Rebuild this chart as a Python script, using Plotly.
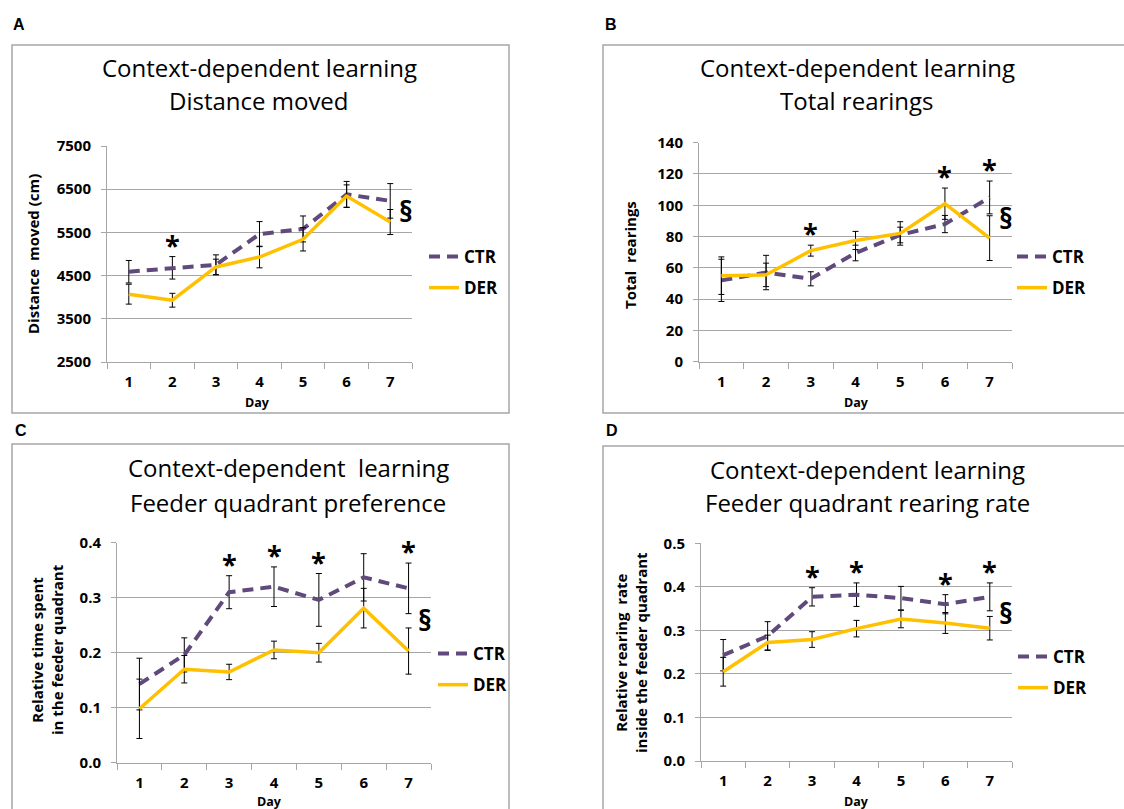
import plotly.graph_objects as go

W, H = 1124, 809

days = [1, 2, 3, 4, 5, 6, 7]
series_names = ["CTR", "DER"]

# Panel A - Distance moved (cm)
ctr_a = [4590, 4680, 4750, 5460, 5580, 6380, 6230]
ctr_a_err = [260, 260, 230, 290, 300, 300, 400]
der_a = [4070, 3930, 4700, 4930, 5340, 6340, 5740]
der_a_err = [230, 160, 180, 250, 270, 260, 290]
stars_a = [2]

# Panel B - Total rearings
ctr_b = [52, 57, 53, 69.5, 81, 88, 105]
ctr_b_err = [13.5, 11, 4.5, 5, 5, 5.5, 10.5]
der_b = [55, 55.5, 71, 77.5, 82, 101, 79]
der_b_err = [12, 7.5, 3.5, 5.8, 7.5, 10, 14.3]
stars_b = [3, 6, 7]

# Panel C - Feeder quadrant preference
ctr_c = [0.143, 0.196, 0.310, 0.320, 0.296, 0.337, 0.317]
ctr_c_err = [0.047, 0.031, 0.030, 0.036, 0.048, 0.043, 0.046]
der_c = [0.098, 0.170, 0.165, 0.205, 0.200, 0.281, 0.203]
der_c_err = [0.054, 0.025, 0.014, 0.016, 0.017, 0.036, 0.042]
stars_c = [3, 4, 5, 7]

# Panel D - Feeder quadrant rearing rate
ctr_d = [0.243, 0.287, 0.377, 0.382, 0.374, 0.360, 0.377]
ctr_d_err = [0.036, 0.033, 0.021, 0.027, 0.027, 0.022, 0.032]
der_d = [0.205, 0.272, 0.279, 0.304, 0.326, 0.317, 0.305]
der_d_err = [0.033, 0.017, 0.018, 0.019, 0.020, 0.024, 0.027]
stars_d = [3, 4, 6, 7]

CTR_COLOR = "#604A7B"
DER_COLOR = "#FFC000"
GRID = "#A6A6A6"
FONT = "Open Sans"


def px(x):
    return x / W


def py(y):
    return 1 - y / H


panels = [
    dict(letter="A", ctr=ctr_a, ctr_err=ctr_a_err, der=der_a, der_err=der_a_err, stars=stars_a,
         yrange=[2500, 7500], dtick=1000, tickformat="d",
         xdom=(107, 412), ydom=(146, 362),
         box=(12, 45, 509, 413), letter_xy=(11, 24),
         title=["Context-dependent learning", "Distance moved"], title_x=259, title_y=(67, 101),
         ytitle="<b>Distance  moved (cm)</b>", ytitle_xy=(33, 254),
         day_xy=(257, 402), legend_xy=(424, 239)),
    dict(letter="B", ctr=ctr_b, ctr_err=ctr_b_err, der=der_b, der_err=der_b_err, stars=stars_b,
         yrange=[0, 140], dtick=20, tickformat="d",
         xdom=(699, 1012), ydom=(142.7, 361.7),
         box=(603, 45, 1140, 413), letter_xy=(603, 24),
         title=["Context-dependent learning", "Total rearings"], title_x=857, title_y=(67, 101),
         ytitle="<b>Total  rearings</b>", ytitle_xy=(630, 255),
         day_xy=(856, 402), legend_xy=(1012, 239)),
    dict(letter="C", ctr=ctr_c, ctr_err=ctr_c_err, der=der_c, der_err=der_c_err, stars=stars_c,
         yrange=[0, 0.4], dtick=0.1, tickformat=".1f",
         xdom=(117, 431), ydom=(542.7, 762.7),
         box=(12, 444, 509, 830), letter_xy=(13, 430),
         title=["Context-dependent  learning", "Feeder quadrant preference"], title_x=288, title_y=(467, 503),
         ytitle="<b>Relative time spent<br>in the feeder quadrant</b>", ytitle_xy=(47, 650),
         day_xy=(269, 801), legend_xy=(433, 636)),
    dict(letter="D", ctr=ctr_d, ctr_err=ctr_d_err, der=der_d, der_err=der_d_err, stars=stars_d,
         yrange=[0, 0.5], dtick=0.1, tickformat=".1f",
         xdom=(701, 1012), ydom=(543.3, 761),
         box=(603, 446, 1140, 830), letter_xy=(604, 430),
         title=["Context-dependent learning", "Feeder quadrant rearing rate"], title_x=867, title_y=(469, 503),
         ytitle="<b>Relative rearing  rate<br>inside the feeder quadrant</b>", ytitle_xy=(631, 653),
         day_xy=(856, 801), legend_xy=(1013, 639)),
]

fig = go.Figure()
annotations = []
shapes = []

for i, p in enumerate(panels):
    n = "" if i == 0 else str(i + 1)
    xa, ya = "x" + n, "y" + n
    leg = "legend" if i == 0 else "legend" + str(i + 1)
    fig.add_trace(go.Scatter(
        x=days, y=p["ctr"], mode="lines", name=series_names[0], xaxis=xa, yaxis=ya,
        line=dict(color=CTR_COLOR, width=4, dash="11px,7px"),
        error_y=dict(type="data", array=p["ctr_err"], visible=True, color="black", thickness=1, width=3),
        legend=leg, legendgroup="ctr" + n))
    fig.add_trace(go.Scatter(
        x=days, y=p["der"], mode="lines", name=series_names[1], xaxis=xa, yaxis=ya,
        line=dict(color=DER_COLOR, width=3.5),
        error_y=dict(type="data", array=p["der_err"], visible=True, color="black", thickness=1, width=3),
        legend=leg, legendgroup="der" + n))

    x0, x1 = p["xdom"]
    y0, y1 = p["ydom"]
    fig.layout["xaxis" + n] = dict(
        domain=[px(x0), px(x1)], anchor=ya, range=[0.5, 7.5],
        tickmode="array", tickvals=days, ticktext=[str(d) for d in days],
        ticks="", showgrid=False, showline=True, linecolor=GRID, linewidth=1,
        tickfont=dict(family=FONT, size=15, color="black", weight="bold"),
        ticklabelstandoff=6, automargin=False,
        minor=dict(tickvals=[k + 0.5 for k in range(0, 8)], ticks="outside", ticklen=6,
                   tickcolor=GRID, tickwidth=1, showgrid=False),
        zeroline=False, fixedrange=True)
    fig.layout["yaxis" + n] = dict(
        domain=[py(y1), py(y0)], anchor=xa, range=p["yrange"],
        tickmode="linear", tick0=p["yrange"][0], dtick=p["dtick"], tickformat=p["tickformat"],
        ticks="outside", ticklen=5, tickcolor=GRID, showgrid=True, gridcolor=GRID, gridwidth=1,
        showline=True, linecolor=GRID, linewidth=1, zeroline=False, automargin=False,
        tickfont=dict(family=FONT, size=15, color="black", weight="bold"),
        ticklabelstandoff=7, fixedrange=True)

    lx, ly = p["legend_xy"]
    fig.layout[leg] = dict(x=px(lx), y=py(ly), xanchor="left", yanchor="top",
                           bgcolor="rgba(0,0,0,0)", tracegroupgap=6,
                           font=dict(family=FONT, size=17, color="black", weight="bold"))

    bx0, by0, bx1, by1 = p["box"]
    shapes.append(dict(type="rect", xref="paper", yref="paper", x0=px(bx0), x1=px(bx1),
                       y0=py(by1), y1=py(by0), line=dict(color=GRID, width=1.5),
                       fillcolor="rgba(0,0,0,0)", layer="below"))

    annotations.append(dict(text="<b>" + p["letter"] + "</b>", x=px(p["letter_xy"][0]), y=py(p["letter_xy"][1]),
                            xref="paper", yref="paper", xanchor="left", yanchor="middle",
                            showarrow=False, font=dict(family="Liberation Sans", size=16, color="black")))
    for t, ty in zip(p["title"], p["title_y"]):
        annotations.append(dict(text=t, x=px(p["title_x"]), y=py(ty), xref="paper", yref="paper",
                                xanchor="center", yanchor="middle", showarrow=False,
                                font=dict(family=FONT, size=24, color="black")))
    annotations.append(dict(text=p["ytitle"], x=px(p["ytitle_xy"][0]), y=py(p["ytitle_xy"][1]),
                            xref="paper", yref="paper", xanchor="center", yanchor="middle",
                            textangle=-90, showarrow=False,
                            font=dict(family=FONT, size=15, color="black")))
    annotations.append(dict(text="<b>Day</b>", x=px(p["day_xy"][0]), y=py(p["day_xy"][1]),
                            xref="paper", yref="paper", xanchor="center", yanchor="middle",
                            showarrow=False, font=dict(family=FONT, size=12.5, color="black")))
    for d in p["stars"]:
        k = days.index(d)
        top = max(p["ctr"][k] + p["ctr_err"][k], p["der"][k] + p["der_err"][k])
        annotations.append(dict(text="<b>*</b>", x=d, y=top, xref=xa, yref=ya,
                                xanchor="center", yanchor="bottom", yshift=-8, showarrow=False,
                                font=dict(family=FONT, size=27, color="black")))
    mid = (p["ctr"][-1] + p["der"][-1]) / 2
    annotations.append(dict(text="<b>§</b>", x=7.37, y=mid, xref=xa, yref=ya,
                            xanchor="center", yanchor="middle", showarrow=False,
                            font=dict(family=FONT, size=28, color="black")))

fig.update_layout(
    width=W, height=H, autosize=False,
    margin=dict(l=0, r=0, t=0, b=0, pad=0, autoexpand=False),
    paper_bgcolor="white", plot_bgcolor="white",
    showlegend=True, annotations=annotations, shapes=shapes,
    font=dict(family=FONT, color="black"),
)

fig.write_html(
    "out.html",
    config={"displayModeBar": False, "staticPlot": True, "responsive": False},
    post_script=(
        "document.documentElement.style.margin='0';"
        "document.documentElement.style.overflow='hidden';"
        "document.body.style.margin='0';document.body.style.padding='0';"
        "document.body.style.overflow='hidden';"
        "var d=document.getElementById('{plot_id}');"
        "d.style.position='fixed';d.style.top='0px';d.style.left='0px';d.style.zIndex='1000';"
    ),
)
